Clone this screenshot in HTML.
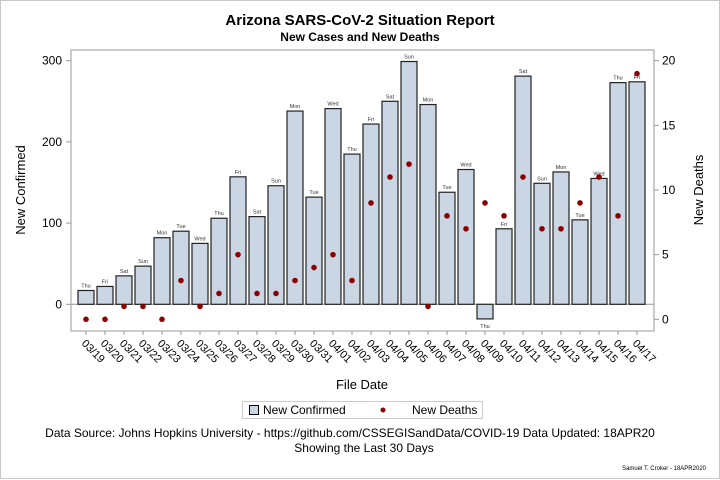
<!DOCTYPE html>
<html><head><meta charset="utf-8"><style>
body{margin:0;background:#fff;}
svg{display:block;font-family:"Liberation Sans",Arial,sans-serif;}
</style></head><body>
<svg id="c" width="720" height="480">
<rect x="0.5" y="0.5" width="719" height="478" fill="#fff" stroke="#c8c8c8"/>
<text x="360" y="25" text-anchor="middle" font-size="15" font-weight="bold">Arizona SARS-CoV-2 Situation Report</text>
<text x="360" y="41" text-anchor="middle" font-size="12" font-weight="bold">New Cases and New Deaths</text>
<rect x="71" y="50" width="583" height="281" fill="none" stroke="#999"/>
<g id="marks"></g>
<text transform="translate(25,190) rotate(-90)" text-anchor="middle" font-size="13">New Confirmed</text>
<text transform="translate(703,190) rotate(-90)" text-anchor="middle" font-size="13">New Deaths</text>
<text x="362" y="389" text-anchor="middle" font-size="13">File Date</text>
<g>
<rect x="242.5" y="401.5" width="240" height="17" fill="#fff" stroke="#ccc"/>
<rect x="249.5" y="405.5" width="9" height="9" fill="#cad6e4" stroke="#000"/>
<text x="263" y="414" font-size="12">New Confirmed</text>
<circle cx="383" cy="410" r="2.5" fill="#8b0000"/>
<text x="412" y="414" font-size="12">New Deaths</text>
</g>
<text x="350" y="437" text-anchor="middle" font-size="12">Data Source: Johns Hopkins University - https://github.com/CSSEGISandData/COVID-19 Data Updated: 18APR20</text>
<text x="364" y="452" text-anchor="middle" font-size="12">Showing the Last 30 Days</text>
<text x="706" y="470" text-anchor="end" font-size="6">Samuel T. Croker - 18APR2020</text>
</svg>
<script>
const dates=["03/19","03/20","03/21","03/22","03/23","03/24","03/25","03/26","03/27","03/28","03/29","03/30","03/31","04/01","04/02","04/03","04/04","04/05","04/06","04/07","04/08","04/09","04/10","04/11","04/12","04/13","04/14","04/15","04/16","04/17"];
const days=["Thu","Fri","Sat","Sun","Mon","Tue","Wed","Thu","Fri","Sat","Sun","Mon","Tue","Wed","Thu","Fri","Sat","Sun","Mon","Tue","Wed","Thu","Fri","Sat","Sun","Mon","Tue","Wed","Thu","Fri"];
const confirmed=[17,22,35,47,82,90,75,106,157,108,146,238,132,241,185,222,250,299,246,138,166,-18,93,281,149,163,104,155,273,274];
const deaths=[0,0,1,1,0,3,1,2,5,2,2,3,4,5,3,9,11,12,1,8,7,9,8,11,7,7,9,11,8,19];
const leftTicks=[0,100,200,300];
const rightTicks=[0,5,10,15,20];
const NS="http://www.w3.org/2000/svg";
const g=document.getElementById('marks');
function el(t,a){const e=document.createElementNS(NS,t);for(const k in a)e.setAttribute(k,a[k]);g.appendChild(e);return e;}
const x=i=>86+i*19;
const yL=v=>304.3-v*(243.6/300);
const yR=v=>319.3-v*(258.6/20);
leftTicks.forEach(v=>{
 const l=el('line',{x1:66,x2:71,y1:yL(v),y2:yL(v),stroke:'#999'});
 
 
 const t=el('text',{x:62,y:yL(v)+4,'text-anchor':'end','font-size':12});
 t.textContent=v;
 
 
});
rightTicks.forEach(v=>{
 const l=el('line',{x1:654,x2:659,y1:yR(v),y2:yR(v),stroke:'#999'});
 
 
 const t=el('text',{x:662,y:yR(v)+4,'font-size':12});
 t.textContent=v;
 
 
});
const base=el('line',{x1:71,x2:654,y1:yL(0),y2:yL(0),stroke:'#999'});


confirmed.forEach((v,i)=>{
 const y0=yL(0),y1=yL(v);
 const r=el('rect',{x:x(i)-8,y:Math.min(y0,y1),width:16,height:Math.abs(y1-y0),fill:'#cad6e4',stroke:'#222','stroke-width':1.2});
 
 
 const t=el('text',{x:x(i),y:v>=0?y1-3:y1+9,'text-anchor':'middle','font-size':5.5,fill:'#333'});
 t.textContent=days[i];
 
 
 const tk=el('line',{x1:x(i),x2:x(i),y1:331,y2:335,stroke:'#999'});
 
 
 const xl=el('text',{x:0,y:0,'font-size':11,transform:'translate('+(x(i)-5)+',344) rotate(45)'});
 xl.textContent=dates[i];
 
 
});
deaths.forEach((v,i)=>{
 const c=el('circle',{cx:x(i),cy:yR(v),r:2.8,fill:'#8b0000'});
 
 
});
</script>
</body></html>
